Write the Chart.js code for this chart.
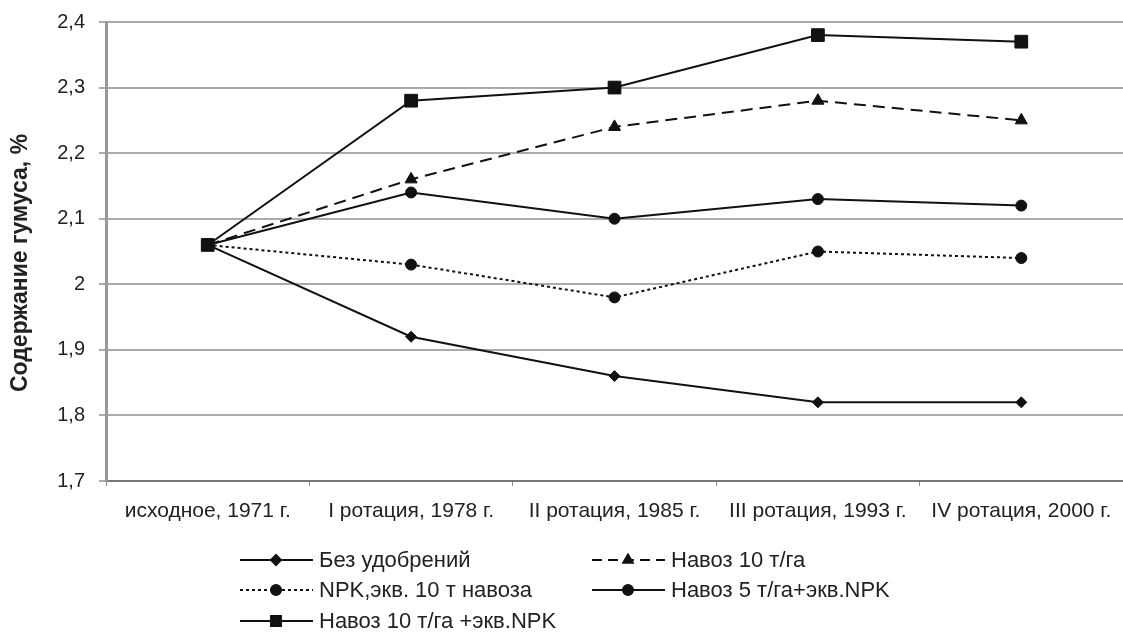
<!DOCTYPE html>
<html><head><meta charset="utf-8">
<script src="https://cdn.jsdelivr.net/npm/chart.js@4.4.1/dist/chart.umd.min.js"></script>
<style>html,body{margin:0;padding:0;background:#fff}#wrap{width:1123px;height:634px;position:relative}</style>
</head><body><div id="wrap"><canvas id="c" width="1123" height="634"></canvas></div>
<script>
const categories = ["исходное, 1971 г.", "I ротация, 1978 г.", "II ротация, 1985 г.", "III ротация, 1993 г.", "IV ротация, 2000 г."];
const bezUdobreniy = [2.06, 1.92, 1.86, 1.82, 1.82];
const navoz10 = [2.06, 2.16, 2.24, 2.28, 2.25];
const npk10 = [2.06, 2.03, 1.98, 2.05, 2.04];
const navoz5npk = [2.06, 2.14, 2.10, 2.13, 2.12];
const navoz10npk = [2.06, 2.28, 2.30, 2.38, 2.37];
const seriesNames = ["Без удобрений", "Навоз 10 т/га", "NPK,экв. 10 т навоза", "Навоз 5 т/га+экв.NPK", "Навоз 10 т/га +экв.NPK"];
const yTitle = "Содержание гумуса, %";
const yMin = 1.7, yMax = 2.4, yStep = 0.1;

const FONT = "'Liberation Sans', Arial, sans-serif";
const ink = '#111';
function ds(label, data, style, dash, radius) {
  return { label, data, borderColor: ink, backgroundColor: ink, borderWidth: 2, borderDash: dash,
    pointStyle: style, pointRadius: radius, pointBackgroundColor: ink, pointBorderColor: ink, pointBorderWidth: 1,
    tension: 0, fill: false };
}
const datasets = [
  ds(seriesNames[0], bezUdobreniy, 'rectRot', [], 5.5),
  ds(seriesNames[1], navoz10, 'triangle', [12, 7], 7),
  ds(seriesNames[2], npk10, 'circle', [3, 3], 5.5),
  ds(seriesNames[3], navoz5npk, 'circle', [], 5.5),
  ds(seriesNames[4], navoz10npk, 'rect', [], 9)
];

const legendPos = [
  {x: 240, y: 560}, {x: 592, y: 560},
  {x: 240, y: 590}, {x: 592, y: 590},
  {x: 240, y: 621}
];
const legendMarkerR = [5, 5.5, 5, 5, 7];
const legendPlugin = {
  id: 'customLegend',
  afterDraw(chart) {
    const ctx = chart.ctx;
    ctx.save();
    chart.data.datasets.forEach((d, i) => {
      const p = legendPos[i];
      ctx.strokeStyle = ink; ctx.lineWidth = 2;
      ctx.setLineDash(i === 1 ? [10, 6] : (d.borderDash || []));
      ctx.beginPath(); ctx.moveTo(p.x, p.y); ctx.lineTo(p.x + 73, p.y); ctx.stroke();
      ctx.setLineDash([]);
      ctx.fillStyle = ink;
      Chart.helpers.drawPoint(ctx, {pointStyle: d.pointStyle, radius: legendMarkerR[i], borderWidth: 1}, p.x + 36, p.y);
      ctx.fillStyle = '#222';
      ctx.font = "22px " + FONT;
      ctx.textBaseline = 'middle';
      ctx.textAlign = 'left';
      ctx.fillText(d.label, p.x + 79, p.y + 1);
    });
    // y-axis title
    ctx.translate(21, 263);
    ctx.rotate(-Math.PI / 2);
    ctx.font = "bold 23px " + FONT;
    ctx.textAlign = 'center';
    ctx.textBaseline = 'middle';
    ctx.fillStyle = '#222';
    ctx.fillText(yTitle, 0, 0);
    ctx.restore();
  }
};

new Chart(document.getElementById('c'), {
  type: 'line',
  data: { labels: categories, datasets },
  options: {
    responsive: false, animation: false, devicePixelRatio: 1,
    layout: { autoPadding: false, padding: { top: 22, right: 0, bottom: 108, left: 0 } },
    plugins: { legend: { display: false }, tooltip: { enabled: false } },
    scales: {
      x: {
        offset: true,
        grid: { display: true, drawOnChartArea: false, offset: true, tickLength: 5, color: '#888', lineWidth: 1 },
        border: { color: '#777', width: 2 },
        ticks: { color: '#222', font: { family: FONT, size: 21 }, maxRotation: 0, autoSkip: false, padding: 13 },
        afterFit(s) { s.height = 45; s.paddingLeft = 0; s.paddingRight = 0; }
      },
      y: {
        min: yMin, max: yMax,
        grid: { color: '#aaa', lineWidth: 2, tickLength: 7 },
        border: { color: '#999', width: 3 },
        ticks: { stepSize: yStep, color: '#222', font: { family: FONT, size: 20 }, padding: 14,
          callback: v => String(Math.round(v * 10) / 10).replace('.', ',') },
        title: { display: false },
        afterFit(s) { s.width = 106; s.paddingTop = 0; s.paddingBottom = 0; }
      }
    }
  },
  plugins: [legendPlugin]
});
</script></body></html>
